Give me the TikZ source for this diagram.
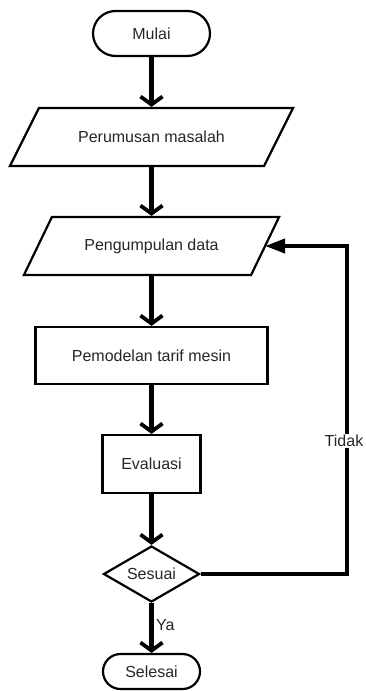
\documentclass[tikz,border=0pt]{standalone}
\usepackage{fontspec}
\setmainfont{Liberation Sans}
\usetikzlibrary{shapes.geometric,shapes.misc,arrows.meta}
\begin{document}
\begin{tikzpicture}[x=1pt,y=-1pt,
  every node/.style={font=\fontsize{16}{19}\selectfont, text=black!85},
  box/.style={draw, line width=2.2pt, rectangle, inner sep=0pt},
  term/.style={draw, line width=2.2pt, rounded rectangle, inner sep=0pt},
  paratext/.style={rectangle, inner sep=0pt, outer sep=1.1pt},
  paraline/.style={line width=2.2pt},
  dec/.style={draw, line width=2.2pt, diamond, aspect=1.7, inner sep=0pt},
  flow/.style={line width=5pt, -{Straight Barb[length=8pt, width=22pt, line width=3.8pt]}},
  back/.style={line width=4pt, -{Triangle[length=20pt, width=14pt]}},
  lbl/.style={fill=white, inner sep=1.5pt}
]
\useasboundingbox (0,0) rectangle (366,691);
\node[term, minimum width=117, minimum height=45] (mulai) at (151.5,33.5) {Mulai};
\node[paratext, minimum width=252, minimum height=58] (rumus) at (151.5,137) {Perumusan masalah};
\draw[paraline] ([xshift=14.5pt,yshift=-1.1pt]rumus.north west) -- ([xshift=14.5pt,yshift=-1.1pt]rumus.north east)
   -- ([xshift=-14.5pt,yshift=1.1pt]rumus.south east) -- ([xshift=-14.5pt,yshift=1.1pt]rumus.south west) -- cycle;
\node[paratext, minimum width=225, minimum height=58] (kumpul) at (151.5,246) {Pengumpulan data};
\draw[paraline] ([xshift=14pt,yshift=-1.1pt]kumpul.north west) -- ([xshift=14pt,yshift=-1.1pt]kumpul.north east)
   -- ([xshift=-14pt,yshift=1.1pt]kumpul.south east) -- ([xshift=-14pt,yshift=1.1pt]kumpul.south west) -- cycle;
\node[box, minimum width=232, minimum height=57] (model) at (151.5,355.5) {Pemodelan tarif mesin};
\node[box, minimum width=98, minimum height=58] (eval) at (151.5,464) {Evaluasi};
\node[dec, minimum width=96, minimum height=56] (sesuai) at (151.5,574) {Sesuai};
\node[term, minimum width=97, minimum height=35] (selesai) at (151.5,671.5) {Selesai};
\coordinate (rt) at (347,400);

\draw[flow] (mulai.south) -- (rumus.north);
\draw[flow] (rumus.south) -- (kumpul.north);
\draw[flow] (kumpul.south) -- (model.north);
\draw[flow] (model.south) -- (eval.north);
\draw[flow] (eval.south) -- (sesuai.north);
\draw[flow] (sesuai.south) -- (selesai.north);
\draw[back] (sesuai.east) -| (rt) |- (kumpul.east);
\node[lbl] (tidak) at (344,441) {Tidak};
\node[anchor=west, inner sep=0pt] (ya) at (156,625) {Ya};
\end{tikzpicture}
\end{document}
